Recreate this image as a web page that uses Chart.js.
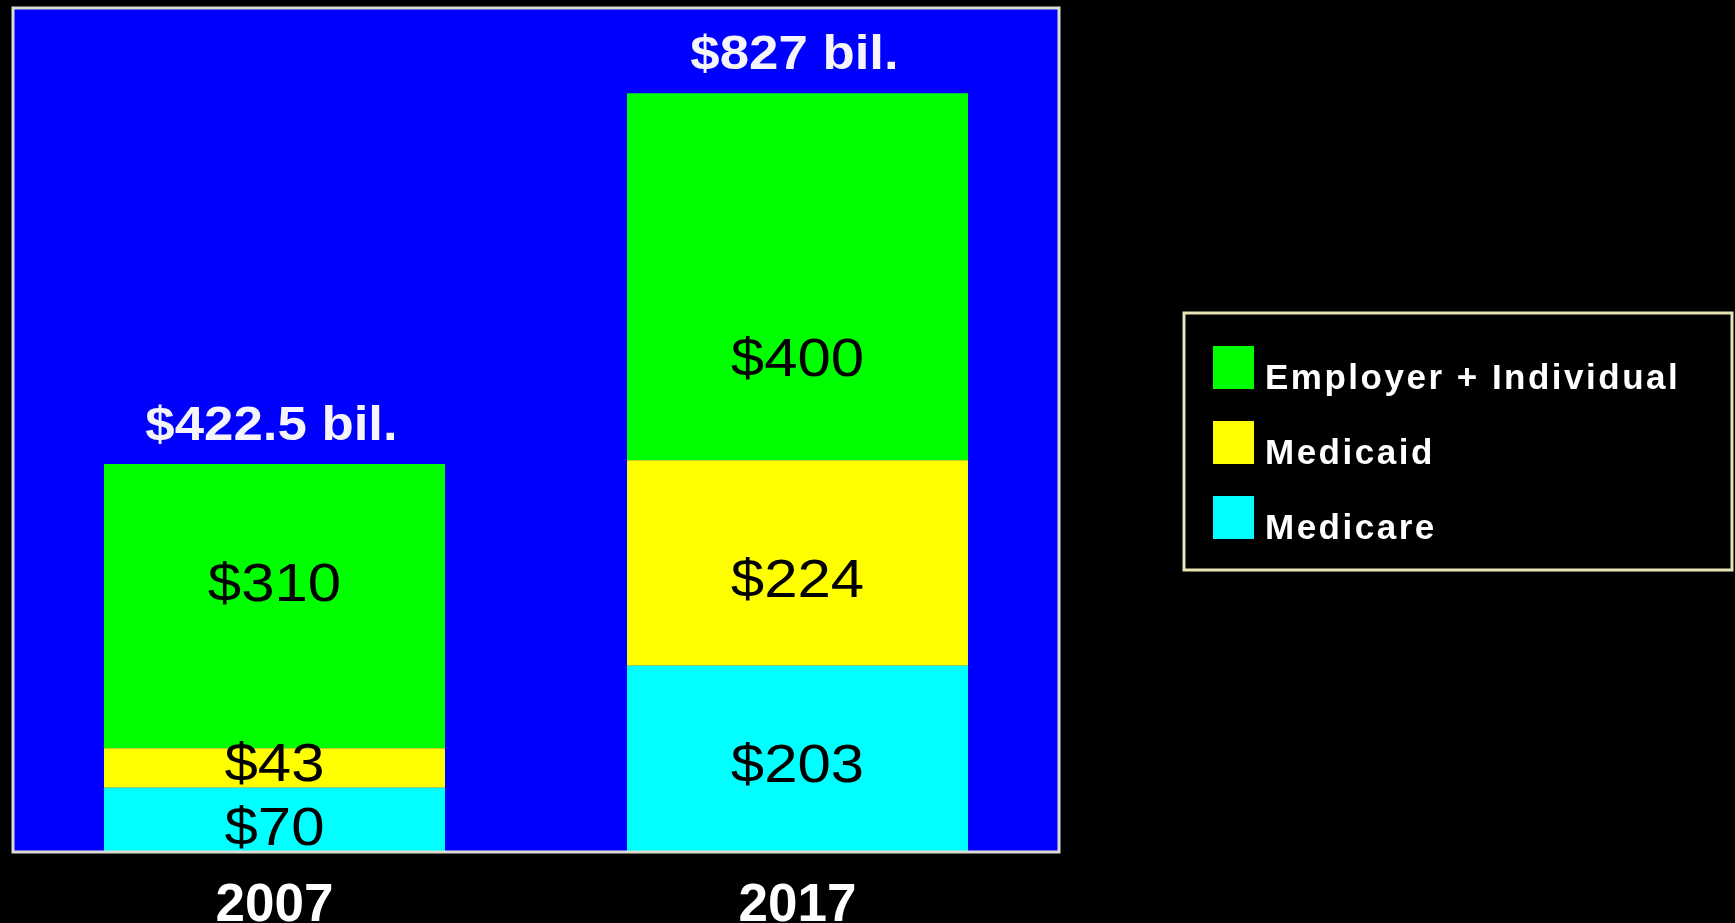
<!DOCTYPE html>
<html>
<head>
<meta charset="utf-8">
<title>Health spending 2007 / 2017</title>
<script src="https://cdn.jsdelivr.net/npm/chart.js@4/dist/chart.umd.min.js"></script>
<style>
    html, body { margin: 0; padding: 0; background: #000; overflow: hidden; }
    #chart-wrap { position: relative; width: 1735px; height: 923px; }
</style>
</head>
<body>
<div id="chart-wrap"><canvas id="spendingChart"></canvas></div>
<script>
// data (billions of dollars)
var years = ['2007', '2017'];
var medicare = [70, 203];
var medicaid = [43, 224];
var employerIndividual = [310, 400];
var totals = [422.5, 827];
var seriesNames = ['Medicare', 'Medicaid', 'Employer + Individual'];
var seriesColors = ['#00ffff', '#ffff00', '#00ff00'];

// vertical nudge of each segment label from the segment middle, [dataset][bar]
var labelNudge = [[6, 4], [-6, 15], [-24, 80]];

document.addEventListener('DOMContentLoaded', function() {

    // blue plot background + frame
    var plotFrame = {
        id: 'plotFrame',
        beforeDatasetsDraw: function(chart) {
            var a = chart.chartArea, ctx = chart.ctx;
            ctx.save();
            ctx.fillStyle = '#0000ff';
            ctx.fillRect(a.left, a.top, a.right - a.left, a.bottom - a.top);
            ctx.restore();
        },
        afterDatasetsDraw: function(chart) {
            var a = chart.chartArea, ctx = chart.ctx;
            ctx.save();
            ctx.strokeStyle = '#dcdcd2';
            ctx.lineWidth = 3;
            ctx.strokeRect(a.left, a.top, a.right - a.left, a.bottom - a.top);
            ctx.restore();
        }
    };

    // dollar labels inside segments and totals above the bars
    var valueLabels = {
        id: 'valueLabels',
        afterDatasetsDraw: function(chart) {
            var ctx = chart.ctx;
            ctx.save();
            ctx.textAlign = 'center';
            ctx.textBaseline = 'alphabetic';

            var size = 54;
            ctx.font = size + 'px "Liberation Sans", Arial, sans-serif';
            ctx.fillStyle = '#000';
            chart.data.datasets.forEach(function(ds, di) {
                chart.getDatasetMeta(di).data.forEach(function(bar, i) {
                    var cy = (bar.y + bar.base) / 2 + labelNudge[di][i];
                    ctx.save();
                    ctx.translate(bar.x, cy + size * 0.358);
                    ctx.scale(1.11, 1);
                    ctx.fillText('$' + ds.data[i], 0, 0);
                    ctx.restore();
                });
            });

            var tsize = 48;
            ctx.font = 'bold ' + tsize + 'px "Liberation Sans", Arial, sans-serif';
            ctx.fillStyle = '#f4f4fa';
            var topMeta = chart.getDatasetMeta(chart.data.datasets.length - 1);
            topMeta.data.forEach(function(bar, i) {
                ctx.save();
                ctx.translate(bar.x - 3, bar.y - 41.5 + tsize * 0.358);
                ctx.scale(1.1, 1);
                ctx.fillText('$' + totals[i] + ' bil.', 0, 0);
                ctx.restore();
            });
            ctx.restore();
        }
    };

    // boxed legend on the right, top series first
    var boxLegend = {
        id: 'boxLegend',
        afterDraw: function(chart) {
            var ctx = chart.ctx;
            ctx.save();
            ctx.strokeStyle = '#e6e6b4';
            ctx.lineWidth = 3;
            ctx.strokeRect(1184, 313, 548, 257);

            ctx.font = 'bold 35px "Liberation Sans", Arial, sans-serif';
            ctx.textAlign = 'left';
            ctx.textBaseline = 'alphabetic';
            if ('letterSpacing' in ctx) ctx.letterSpacing = '2.5px';
            var n = chart.data.datasets.length;
            for (var k = 0; k < n; k++) {
                var ds = chart.data.datasets[n - 1 - k];
                var top = 346 + k * 75;
                ctx.fillStyle = ds.backgroundColor;
                ctx.fillRect(1213, top, 41, 43);
                ctx.fillStyle = '#ffffff';
                ctx.fillText(ds.label, 1265, top + 43);
            }
            ctx.restore();
        }
    };

    var ctx = document.getElementById('spendingChart').getContext('2d');
    new Chart(ctx, {
        type: 'bar',
        data: {
            labels: years,
            datasets: [
                { label: seriesNames[0], data: medicare, backgroundColor: seriesColors[0] },
                { label: seriesNames[1], data: medicaid, backgroundColor: seriesColors[1] },
                { label: seriesNames[2], data: employerIndividual, backgroundColor: seriesColors[2] }
            ]
        },
        options: {
            responsive: true,
            maintainAspectRatio: false,
            devicePixelRatio: 1,
            animation: false,
            layout: { padding: { left: 13, top: 8, right: 676, bottom: 0 } },
            datasets: {
                bar: { barPercentage: 0.652, categoryPercentage: 1, borderWidth: 0 }
            },
            scales: {
                x: {
                    stacked: true,
                    grid: { display: false, drawTicks: false },
                    border: { display: false },
                    ticks: {
                        color: '#ffffff',
                        padding: 28,
                        font: { family: '"Liberation Sans", Arial, sans-serif', size: 53, weight: 'bold', lineHeight: 1 }
                    },
                    afterFit: function(scale) { scale.height = 71; }
                },
                y: {
                    stacked: true,
                    display: false,
                    min: 0,
                    max: 920
                }
            },
            plugins: {
                legend: { display: false },
                tooltip: { enabled: false }
            }
        },
        plugins: [plotFrame, valueLabels, boxLegend]
    });
});
</script>
</body>
</html>
